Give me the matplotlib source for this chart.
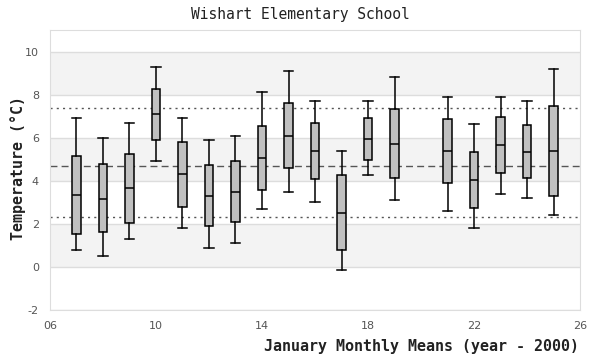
import matplotlib
matplotlib.use("Agg")
import matplotlib.pyplot as plt

# January monthly mean temperatures, box statistics per year (year - 2000)
years = [7, 8, 9, 10, 11, 12, 13, 14, 15, 16, 17, 18, 19, 21, 22, 23, 24, 25]
whis_hi = [6.90, 6.00, 6.70, 9.28, 6.92, 5.90, 6.10, 8.13, 9.10, 7.72, 5.40, 7.72, 8.82, 7.90, 6.62, 7.90, 7.72, 9.20]
q3 = [5.15, 4.78, 5.25, 8.25, 5.80, 4.72, 4.92, 6.55, 7.63, 6.68, 4.25, 6.93, 7.35, 6.85, 5.35, 6.98, 6.58, 7.48]
med = [3.34, 3.15, 3.65, 7.08, 4.30, 3.30, 3.48, 5.05, 6.08, 5.38, 2.50, 5.93, 5.72, 5.38, 4.05, 5.68, 5.35, 5.38]
q1 = [1.54, 1.60, 2.05, 5.89, 2.80, 1.92, 2.10, 3.55, 4.60, 4.10, 0.80, 4.95, 4.15, 3.88, 2.72, 4.38, 4.15, 3.30]
whis_lo = [0.79, 0.50, 1.30, 4.92, 1.82, 0.88, 1.12, 2.70, 3.48, 3.02, -0.15, 4.25, 3.12, 2.60, 1.82, 3.40, 3.22, 2.42]

# reference lines
upper_line = 7.37
mean_line = 4.68
lower_line = 2.31

x_ticks = [6, 10, 14, 18, 22, 26]
y_ticks = [-2, 0, 2, 4, 6, 8, 10]

mono = "DejaVu Sans Mono"
plt.rcParams["axes.unicode_minus"] = False

fig = plt.figure(figsize=(6, 3.6), dpi=100)
ax = fig.add_axes([50 / 600, 1 - 310 / 360, 530 / 600, 280 / 360])

# alternating background bands
for lo in (0, 4, 8):
    ax.axhspan(lo, lo + 2, color="#f3f3f3", zorder=0, lw=0)
for y in y_ticks:
    ax.axhline(y, color="#dddddd", lw=1, zorder=0.5)

ax.axhline(upper_line, color="#555555", lw=1, ls=(0, (1.5, 3)), zorder=1)
ax.axhline(lower_line, color="#555555", lw=1, ls=(0, (1.5, 3)), zorder=1)
ax.axhline(mean_line, color="#555555", lw=1, ls=(0, (5, 3)), zorder=1)

stats = []
for i in range(len(years)):
    stats.append({"whislo": whis_lo[i], "q1": q1[i], "med": med[i],
                  "q3": q3[i], "whishi": whis_hi[i], "fliers": []})

line = dict(color="black", lw=1.1)
ax.bxp(stats, positions=years, widths=0.32, capwidths=0.36, patch_artist=True,
       showfliers=False, manage_ticks=False,
       boxprops=dict(facecolor="#c0c0c0", edgecolor="black", lw=1.1),
       medianprops=line, whiskerprops=line, capprops=line, zorder=3)

ax.set_xlim(6, 26)
ax.set_ylim(-2, 11)
ax.set_xticks(x_ticks)
ax.set_xticklabels([f"{t:02d}" for t in x_ticks])
ax.set_yticks(y_ticks)
ax.tick_params(length=0, labelsize=8, labelcolor="#555555", pad=8)
for s in ax.spines.values():
    s.set_color("#dddddd")

fig.text(0.5, 1 - 14 / 360, "Wishart Elementary School", family=mono,
         fontsize=10.5, ha="center", va="center", color="#222222")
fig.text(579 / 600, 1 - 347 / 360, "January Monthly Means (year - 2000)",
         family=mono, fontsize=10.8, ha="right", va="center",
         color="#222222", weight="semibold")
fig.text(18 / 600, 1 - 168 / 360, "Temperature (°C)", family=mono,
         fontsize=10.8, ha="center", va="center", rotation=90,
         color="#222222", weight="semibold")

fig.savefig("out.png", dpi=100)
